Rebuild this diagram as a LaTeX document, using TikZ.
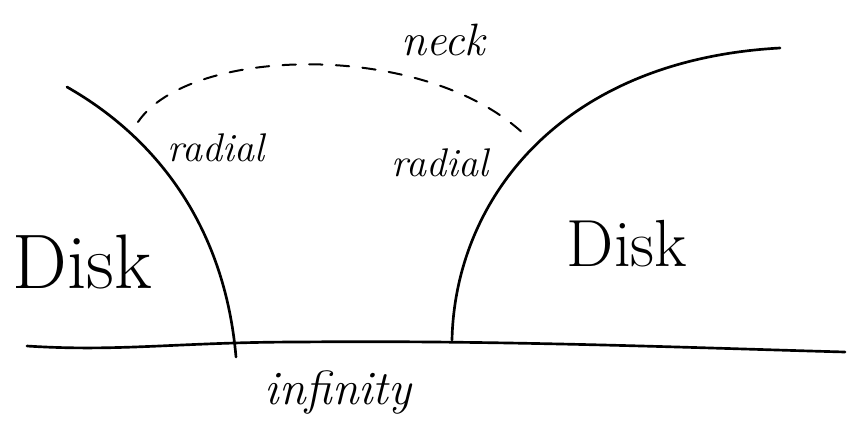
\documentclass[tikz,border=0pt]{standalone}
\begin{document}
\begin{tikzpicture}[x=0.75pt,y=-0.75pt,
  stroke/.style={line width=2pt,line cap=round,line join=round},
  hand/.style={font=\itshape},
  lbl/.style={inner sep=0pt}]
\useasboundingbox (0,0) rectangle (848,440);
% base line
\coordinate (bl) at (27,346);
\coordinate (br) at (845,352);
\draw[stroke] (bl) .. controls (120,352) and (180,342) .. (300,342) .. controls (500,340) and (700,348) .. (br);
% left curve
\coordinate (lt) at (67,87);
\coordinate (lb) at (236,357);
\draw[stroke] (lt) .. controls (160,140) and (225,230) .. (lb);
% right curve
\coordinate (rb) at (452,340);
\coordinate (rt) at (780,48);
\draw[stroke] (rb) .. controls (455,200) and (560,60) .. (rt);
% neck dashed arc
\coordinate (nl) at (138,122);
\coordinate (nr) at (528,138);
\draw[line width=1.5pt,line cap=round,dash pattern=on 10pt off 10pt] (nl) .. controls (190,45) and (430,40) .. (nr);
% labels
\node[lbl,font=\fontsize{34}{36}\selectfont\itshape] (neck) at (443,40) {neck};
\node[lbl,font=\fontsize{30}{32}\selectfont\itshape] (rad1) at (216,148) {radial};
\node[lbl,font=\fontsize{30}{32}\selectfont\itshape] (rad2) at (440,163) {radial};
\node[lbl,font=\fontsize{58}{60}\selectfont] (disk1) at (82,262) {Disk};
\node[lbl,font=\fontsize{50}{52}\selectfont] (disk2) at (627,244) {Disk};
\node[lbl,font=\fontsize{36}{38}\selectfont\itshape] (inf) at (338,392) {infinity};
\end{tikzpicture}
\end{document}
